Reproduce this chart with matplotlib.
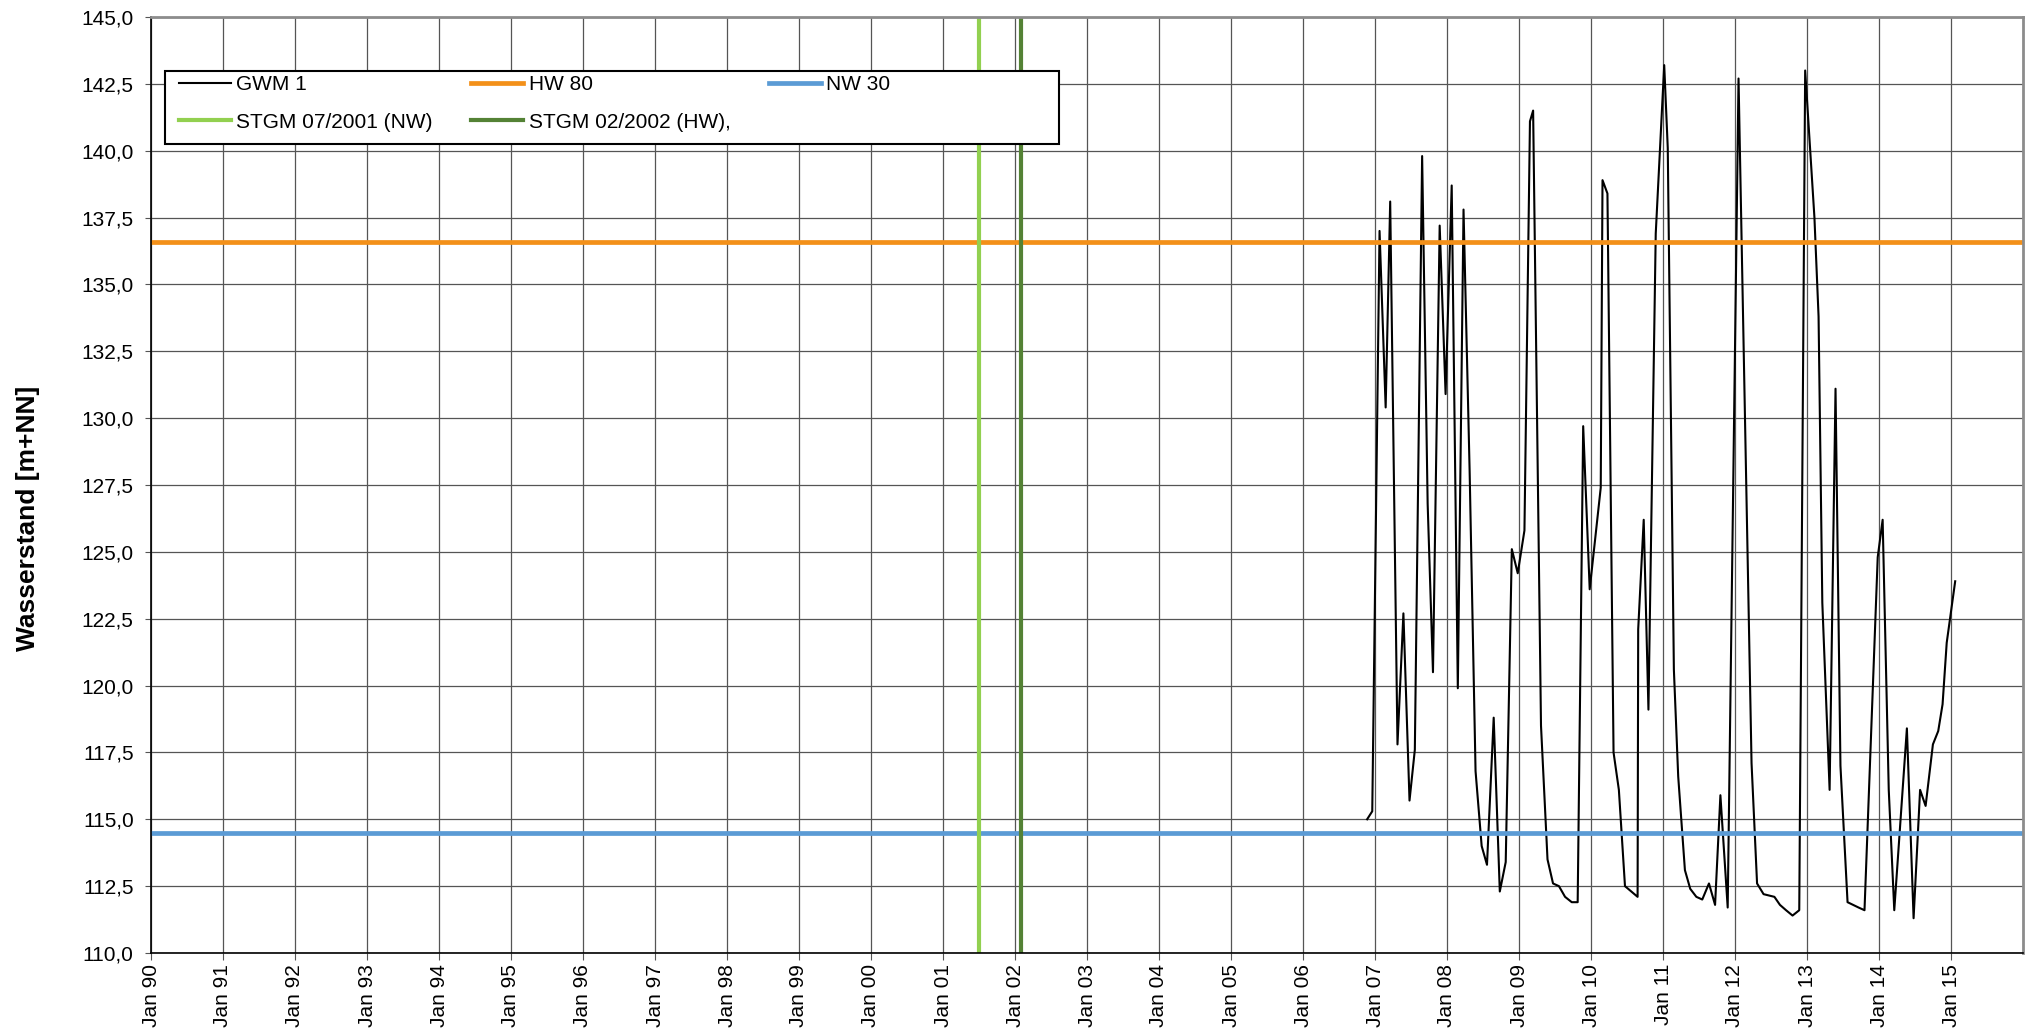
# coding: utf-8
import matplotlib
matplotlib.use("Agg")
import matplotlib.pyplot as plt
import matplotlib.dates as mdates
from matplotlib.patches import Rectangle
from matplotlib.ticker import FixedLocator, FuncFormatter
import pandas as pd

# GWM 1 readings (date, water level in m+NN)
gwm_dates = [
    "2006-11-22", "2006-12-18", "2007-01-24", "2007-02-24", "2007-03-19",
    "2007-04-25", "2007-05-25", "2007-06-25", "2007-07-22", "2007-08-28",
    "2007-09-25", "2007-10-22", "2007-11-25", "2007-12-25", "2008-01-25",
    "2008-02-25", "2008-03-25", "2008-04-25", "2008-05-25", "2008-06-25",
    "2008-07-22", "2008-08-25", "2008-09-25", "2008-10-25", "2008-11-25",
    "2008-12-25", "2009-01-28", "2009-02-25", "2009-03-13", "2009-04-22",
    "2009-05-25", "2009-06-22", "2009-07-22", "2009-08-22", "2009-09-25",
    "2009-10-25", "2009-11-22", "2009-12-25", "2010-02-19", "2010-02-28",
    "2010-03-25", "2010-04-25", "2010-05-22", "2010-06-22", "2010-08-25",
    "2010-08-28", "2010-09-25", "2010-10-19", "2010-11-25", "2011-01-07",
    "2011-01-25", "2011-02-25", "2011-03-19", "2011-04-22", "2011-05-19",
    "2011-06-19", "2011-07-19", "2011-08-22", "2011-09-22", "2011-10-19",
    "2011-11-25", "2012-01-19", "2012-03-25", "2012-04-22", "2012-05-25",
    "2012-07-19", "2012-08-16", "2012-09-16", "2012-10-19", "2012-11-22",
    "2012-12-22", "2013-02-07", "2013-02-28", "2013-03-19", "2013-04-25",
    "2013-05-25", "2013-06-19", "2013-07-25", "2013-09-19", "2013-10-19",
    "2013-12-25", "2014-01-19", "2014-02-19", "2014-03-19", "2014-05-22",
    "2014-06-25", "2014-07-28", "2014-08-25", "2014-10-01", "2014-10-28",
    "2014-11-19", "2014-12-10", "2015-01-22",
]
gwm_values = [
    115.0, 115.3, 137.0, 130.4, 138.1,
    117.8, 122.7, 115.7, 117.6, 139.8,
    126.8, 120.5, 137.2, 130.9, 138.7,
    119.9, 137.8, 128.0, 116.8, 114.0,
    113.3, 118.8, 112.3, 113.4, 125.1,
    124.2, 125.8, 141.1, 141.5, 118.5,
    113.5, 112.6, 112.5, 112.1, 111.9,
    111.9, 129.7, 123.6, 127.4, 138.9,
    138.4, 117.5, 116.1, 112.5, 112.1,
    122.1, 126.2, 119.1, 136.9, 143.2,
    140.1, 120.6, 116.6, 113.1, 112.4,
    112.1, 112.0, 112.6, 111.8, 115.9,
    111.7, 142.7, 117.1, 112.6, 112.2,
    112.1, 111.8, 111.6, 111.4, 111.6,
    143.0, 137.5, 133.8, 123.1, 116.1,
    131.1, 117.0, 111.9, 111.7, 111.6,
    124.8, 126.2, 116.1, 111.6, 118.4,
    111.3, 116.1, 115.5, 117.8, 118.3,
    119.3, 121.6, 123.9,
]

hw80_level = 136.6
nw30_level = 114.5
stgm_nw_date = "2001-07-01"
stgm_hw_date = "2002-02-01"

labels = ["GWM 1", "HW 80", "NW 30", "STGM 07/2001 (NW)", "STGM 02/2002 (HW),"]
tick_years = list(range(1990, 2016))
y_ticks = [110.0 + 2.5 * i for i in range(15)]

plt.rcParams["font.family"] = ["Liberation Sans", "DejaVu Sans"]

fig = plt.figure(figsize=(20.33, 10.32), dpi=100)
ax = fig.add_axes([151 / 2033, 79 / 1032, 1872 / 2033, 936 / 1032])

dates = pd.to_datetime(gwm_dates)
h_gwm, = ax.plot(dates, gwm_values, color="black", lw=1.5, label=labels[0])
h_hw = ax.axhline(hw80_level, color="#f39019", lw=3.4, label=labels[1])
h_nw = ax.axhline(nw30_level, color="#5b9bd5", lw=3.4, label=labels[2])
h_s1 = ax.axvline(pd.Timestamp(stgm_nw_date), color="#92d050", lw=3.0, label=labels[3])
h_s2 = ax.axvline(pd.Timestamp(stgm_hw_date), color="#548235", lw=3.0, label=labels[4])

# axes, ticks, grid
ax.set_xlim(pd.Timestamp("1990-01-01"), pd.Timestamp("2016-01-01"))
ax.set_ylim(110, 145)
ax.xaxis.set_major_locator(FixedLocator(
    [mdates.date2num(pd.Timestamp(year=y, month=1, day=1)) for y in tick_years]))
ax.xaxis.set_major_formatter(mdates.DateFormatter("%b %y"))
ax.set_yticks(y_ticks)
ax.yaxis.set_major_formatter(FuncFormatter(lambda v, p: ("%.1f" % v).replace(".", ",")))
ax.tick_params(axis="x", labelsize=15, rotation=90, length=5, pad=3, color="#555555")
ax.tick_params(axis="y", labelsize=15, length=4.5, pad=8, color="#555555")
ax.set_axisbelow(True)
ax.grid(True, color="#555555", lw=0.9)

for side in ["left", "bottom"]:
    ax.spines[side].set_color("black")
    ax.spines[side].set_linewidth(1.2)
for side in ["top", "right"]:
    ax.spines[side].set_color("#8c8c8c")
    ax.spines[side].set_linewidth(2.0)

ax.set_ylabel("Wasserstand [m+NN]", fontsize=19, fontweight="bold")
ax.yaxis.set_label_coords(-0.0593, 0.4647)

# legend: white box wider than its entries, like the original
ax.add_patch(Rectangle((0.0075, 0.8643), 0.4775, 0.078, transform=ax.transAxes,
                       facecolor="white", edgecolor="black", lw=1.5, zorder=4.9))
# matplotlib fills legend columns first, so reorder to get rows GWM/HW/NW, STGM/STGM
order = [h_gwm, h_s1, h_hw, h_s2, h_nw]
ax.legend(handles=order, loc="upper left", bbox_to_anchor=(0.0150, 0.938), ncol=3,
          frameon=False, fontsize=15, borderpad=0, borderaxespad=0,
          handlelength=2.5, handletextpad=0.25, columnspacing=1.85,
          labelspacing=0.9)

fig.savefig("out.png", dpi=100)
